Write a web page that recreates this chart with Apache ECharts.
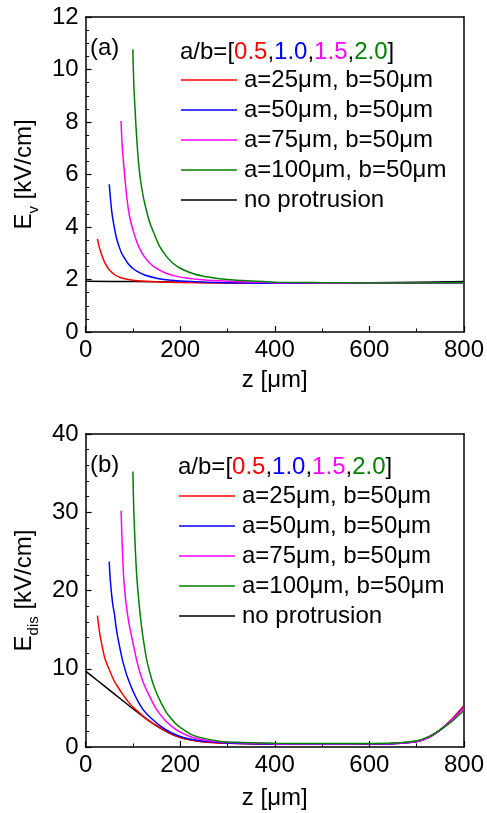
<!DOCTYPE html>
<html><head><meta charset="utf-8">
<script src="https://cdn.jsdelivr.net/npm/echarts@6/dist/echarts.min.js"></script>
<style>html,body{margin:0;padding:0;background:#fff}#c{width:487px;height:813px}</style>
</head><body><div id="c"></div>
<script>
const seriesNames = ['a=25μm, b=50μm','a=50μm, b=50μm','a=75μm, b=50μm','a=100μm, b=50μm','no protrusion'];
const seriesColors = ['#ff0000','#0000ff','#ff00ff','#008000','#000000'];
const xTicks = {min:0, max:800, interval:200};
const yTicksA = {min:0, max:12, interval:2};
const yTicksB = {min:0, max:40, interval:10};

// (a) E_v [kV/cm] vs z [um]
const evRed = [[25,3.55],[28,3.3],[32,3.05],[36,2.85],[40,2.66],[45,2.5],[50,2.37],[60,2.2],[70,2.1],[80,2.04],[100,1.97],[125,1.93],[150,1.91],[200,1.89],[300,1.87],[400,1.86],[500,1.86],[600,1.86],[700,1.87],[800,1.88]];
const evBlue = [[50,5.63],[53,5.0],[56,4.5],[60,4.05],[65,3.6],[70,3.3],[75,3.05],[80,2.88],[90,2.6],[100,2.42],[110,2.3],[125,2.17],[150,2.05],[175,1.98],[200,1.94],[250,1.9],[300,1.88],[400,1.86],[500,1.86],[600,1.86],[700,1.87],[800,1.88]];
const evMagenta = [[75,8.04],[77,7.2],[80,6.5],[84,5.7],[88,5.0],[93,4.4],[100,3.9],[108,3.45],[115,3.15],[125,2.85],[136,2.62],[150,2.42],[170,2.24],[200,2.09],[240,2.0],[280,1.95],[350,1.9],[400,1.88],[500,1.87],[600,1.87],[700,1.87],[800,1.88]];
const evGreen = [[100,10.77],[102,9.4],[105,8.35],[108,7.4],[112,6.45],[116,5.8],[122,5.15],[129,4.6],[136,4.15],[146,3.7],[156,3.28],[170,2.9],[184,2.63],[200,2.43],[225,2.24],[250,2.12],[275,2.05],[300,2.0],[340,1.95],[400,1.9],[500,1.88],[600,1.87],[700,1.87],[800,1.88]];
const evBlack = [[0,1.93],[100,1.92],[200,1.9],[300,1.88],[400,1.87],[500,1.87],[600,1.88],[700,1.9],[800,1.92]];

// (b) E_dis [kV/cm] vs z [um]
const edRed = [[25,16.8],[30,14.5],[34,13.2],[40,11.5],[45,10.6],[50,9.9],[60,8.5],[68,7.7],[80,6.6],[90,5.8],[100,5.1],[115,4.3],[130,3.5],[150,2.75],[175,1.85],[200,1.2],[225,0.85],[250,0.65],[300,0.47],[400,0.37],[500,0.35],[600,0.37],[650,0.42],[700,0.7],[725,1.25],[750,2.2],[775,3.6],[800,5.3]];
const edBlue = [[50,23.7],[52,21.5],[55,19.5],[58,18.0],[61,17.0],[64,15.5],[68,14.0],[73,12.5],[78,11.1],[83,10.0],[88,9.0],[95,7.9],[102,6.9],[112,5.7],[122,4.75],[133,4.0],[143,3.45],[160,2.6],[180,1.85],[200,1.35],[225,0.95],[250,0.72],[300,0.5],[400,0.38],[500,0.36],[600,0.37],[650,0.42],[700,0.68],[725,1.2],[750,2.2],[775,3.5],[800,5.1]];
const edMagenta = [[75,30.2],[77,26.5],[79,23.5],[81,21.3],[85,18.6],[90,16.4],[95,14.8],[102,12.8],[108,11.1],[115,9.5],[125,7.8],[136,6.4],[146,5.2],[156,4.3],[170,3.3],[185,2.5],[200,1.9],[225,1.25],[250,0.9],[300,0.6],[400,0.42],[500,0.38],[600,0.4],[650,0.45],[700,0.7],[725,1.2],[750,2.2],[775,3.5],[800,5.0]];
const edGreen = [[100,35.2],[102,30],[105,25.5],[108,22],[112,19],[116,16.6],[120,14.6],[125,12.6],[130,10.9],[140,8.6],[150,6.9],[160,5.6],[170,4.5],[180,3.7],[190,3.0],[200,2.5],[225,1.55],[250,1.1],[285,0.7],[300,0.63],[400,0.48],[500,0.45],[600,0.45],[650,0.5],[700,0.8],[725,1.3],[750,2.2],[775,3.3],[800,4.7]];
const edBlack = [[0,9.7],[25,8.5],[50,7.3],[75,6.1],[100,4.9],[125,3.75],[150,2.7],[175,1.85],[200,1.25],[225,0.9],[250,0.7],[300,0.5],[400,0.38],[500,0.36],[600,0.38],[650,0.45],[700,0.75],[725,1.3],[750,2.2],[775,3.5],[800,5.1]];

const FONT = 'Liberation Sans, Arial, sans-serif';
const chart = echarts.init(document.getElementById('c'), null, {renderer:'canvas'});

function mainX(gi, gap){
  return {gridIndex:gi, type:'value', min:xTicks.min, max:xTicks.max, interval:xTicks.interval,
    name:'z [μm]', nameLocation:'middle', nameGap:gap,
    nameTextStyle:{fontSize:24, color:'#000', fontFamily:FONT, lineHeight:24},
    axisLine:{onZero:false, lineStyle:{color:'#000', width:1.5}},
    axisTick:{inside:true, length:6, lineStyle:{color:'#000', width:1.2}},
    minorTick:{show:true, splitNumber:2, length:3.5, lineStyle:{color:'#000', width:1}},
    splitLine:{show:false}, minorSplitLine:{show:false},
    axisLabel:{fontSize:24, color:'#000', fontFamily:FONT, margin:6}};
}
function mirrorX(gi){
  return {gridIndex:gi, type:'value', position:'top', min:xTicks.min, max:xTicks.max, interval:xTicks.interval,
    axisLine:{onZero:false, lineStyle:{color:'#000', width:1.5}}, axisTick:{show:false}, axisLabel:{show:false}, splitLine:{show:false}};
}
function mainY(gi, t, split, nameRich, gap){
  return {gridIndex:gi, type:'value', min:t.min, max:t.max, interval:t.interval,
    name:nameRich, nameLocation:'middle', nameGap:gap,
    nameTextStyle:{fontFamily:FONT, color:'#000', rich:{
      a:{fontSize:24, lineHeight:24, fontFamily:FONT, color:'#000'},
      s:{fontSize:15, lineHeight:15, fontFamily:FONT, color:'#000', padding:[18,0,0,0]}}},
    axisLine:{onZero:false, lineStyle:{color:'#000', width:1.5}},
    axisTick:{inside:true, length:6, lineStyle:{color:'#000', width:1.2}},
    minorTick:{show:true, splitNumber:split, length:3.5, lineStyle:{color:'#000', width:1}},
    splitLine:{show:false}, minorSplitLine:{show:false},
    axisLabel:{fontSize:24, color:'#000', fontFamily:FONT, margin:7}};
}
function mirrorY(gi, t){
  return {gridIndex:gi, type:'value', position:'right', min:t.min, max:t.max, interval:t.interval,
    axisLine:{onZero:false, lineStyle:{color:'#000', width:1.5}}, axisTick:{show:false}, axisLabel:{show:false}, splitLine:{show:false}};
}
function line(name, color, data, xi, yi){
  return {type:'line', name:name, data:data, xAxisIndex:xi, yAxisIndex:yi, symbol:'none', smooth:0.3,
    lineStyle:{color:color, width:1.5}, itemStyle:{color:color}, z:3};
}
const abRich = {
  k:{fontSize:24, color:'#000', fontFamily:FONT}, r:{fontSize:24, color:'#ff0000', fontFamily:FONT},
  b:{fontSize:24, color:'#0000ff', fontFamily:FONT}, m:{fontSize:24, color:'#ff00ff', fontFamily:FONT},
  g:{fontSize:24, color:'#008000', fontFamily:FONT}};
const abText = '{k|a/b=[}{r|0.5}{k|,}{b|1.0}{k|,}{m|1.5}{k|,}{g|2.0}{k|]}';

function legend(top){
  return {orient:'vertical', left:176, top:top, icon:'rect', itemWidth:56, itemHeight:1.6, itemGap:6,
    data:seriesNames, selectedMode:false,
    textStyle:{fontSize:24, color:'#000', fontFamily:FONT, lineHeight:24, padding:[0,0,0,2]}};
}

chart.setOption({
  backgroundColor:'#fff',
  animation:false,
  title:[
    {text:'(a)', left:85, top:31, textStyle:{fontSize:24, fontWeight:'normal', color:'#000', fontFamily:FONT}},
    {text:abText, left:175, top:35, textStyle:{rich:abRich, fontWeight:'normal'}},
    {text:'(b)', left:85, top:448, textStyle:{fontSize:24, fontWeight:'normal', color:'#000', fontFamily:FONT}},
    {text:abText, left:173, top:450, textStyle:{rich:abRich, fontWeight:'normal'}}
  ],
  legend:[legend(63), Object.assign(legend(479), {left:174})],
  grid:[
    {left:77, top:17, width:390, height:315, containLabel:false},
    {left:77, top:434, width:391, height:313, containLabel:false}
  ],
  xAxis:[mainX(0,36), mirrorX(0), mainX(1,39), mirrorX(1)],
  yAxis:[
    mainY(0, yTicksA, 4, '{a|E}{s|v}{a| [kV/cm]}', 36),
    mirrorY(0, yTicksA),
    mainY(1, yTicksB, 5, '{a|E}{s|dis}{a| [kV/cm]}', 41),
    mirrorY(1, yTicksB)
  ],
  series:[
    line(seriesNames[4], seriesColors[4], evBlack, 0, 0),
    line(seriesNames[0], seriesColors[0], evRed, 0, 0),
    line(seriesNames[1], seriesColors[1], evBlue, 0, 0),
    line(seriesNames[2], seriesColors[2], evMagenta, 0, 0),
    line(seriesNames[3], seriesColors[3], evGreen, 0, 0),
    line(seriesNames[4], seriesColors[4], edBlack, 2, 2),
    line(seriesNames[0], seriesColors[0], edRed, 2, 2),
    line(seriesNames[1], seriesColors[1], edBlue, 2, 2),
    line(seriesNames[2], seriesColors[2], edMagenta, 2, 2),
    line(seriesNames[3], seriesColors[3], edGreen, 2, 2)
  ]
});
</script></body></html>
